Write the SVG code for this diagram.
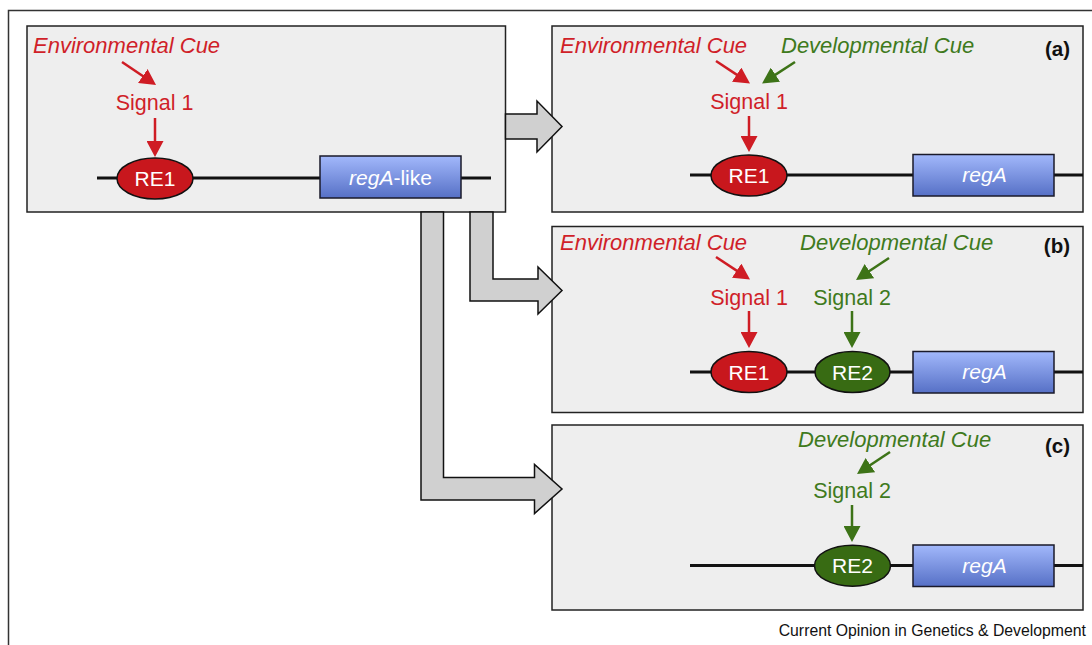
<svg xmlns="http://www.w3.org/2000/svg" width="1092" height="645" viewBox="0 0 1092 645">
<defs>
<linearGradient id="gBlue" x1="0" y1="0" x2="0" y2="1">
<stop offset="0" stop-color="#a2b8fb"/>
<stop offset="1" stop-color="#5670c6"/>
</linearGradient>
<marker id="hRed" markerUnits="userSpaceOnUse" markerWidth="17" markerHeight="17" refX="4" refY="8.5" orient="auto">
<path d="M0,0 L16,8.5 L0,17 z" fill="#cf1c24"/>
</marker>
<marker id="hGreen" markerUnits="userSpaceOnUse" markerWidth="17" markerHeight="17" refX="4" refY="8.5" orient="auto">
<path d="M0,0 L16,8.5 L0,17 z" fill="#3d7317"/>
</marker>
</defs>
<style>
.panel{fill:#eeeeee;stroke:#222;stroke-width:1.5}
.big{fill:#d0d0d0;stroke:#111;stroke-width:1.5;stroke-linejoin:miter}
.dna{stroke:#111;stroke-width:3;fill:none}
.cue{font-family:"Liberation Sans",Arial,sans-serif;font-size:22px;font-style:italic}
.sig{font-family:"Liberation Sans",Arial,sans-serif;font-size:21.5px;text-anchor:middle}
.red{fill:#d01f29}
.grn{fill:#3f7a1d}
.ar{stroke:#cf1c24;stroke-width:2.5;fill:none;marker-end:url(#hRed)}
.ag{stroke:#3d7317;stroke-width:2.5;fill:none;marker-end:url(#hGreen)}
.re1{fill:#c8171d;stroke:#111;stroke-width:1.5}
.re2{fill:#386b13;stroke:#111;stroke-width:1.5}
.gene{fill:url(#gBlue);stroke:#1a1a2a;stroke-width:1.5}
.wt{font-family:"Liberation Sans",Arial,sans-serif;font-size:21px;fill:#ffffff;text-anchor:middle}
.lab{font-family:"Liberation Sans",Arial,sans-serif;font-size:20.5px;font-weight:bold;fill:#111;text-anchor:end}
.cap{font-family:"Liberation Sans",Arial,sans-serif;font-size:15.8px;fill:#111;text-anchor:end}
</style>
<rect x="8.5" y="10.5" width="1200" height="700" fill="#ffffff" stroke="#333" stroke-width="1.5"/>

<g id="source">
<rect class="panel" x="27" y="26" width="478.5" height="186"/>
<text class="cue red" x="33" y="53">Environmental Cue</text>
<line class="ar" x1="122" y1="62" x2="146.1" y2="78.3"/>
<text class="sig red" x="154.5" y="110">Signal 1</text>
<line class="ar" x1="155" y1="118" x2="155" y2="145"/>
<line class="dna" x1="97" y1="178" x2="491" y2="178"/>
<ellipse class="re1" cx="155" cy="178.5" rx="38" ry="20.5"/>
<text class="wt" x="155" y="186">RE1</text>
<rect class="gene" x="320" y="156" width="141" height="42"/>
<text class="wt" x="390.5" y="184.5"><tspan font-style="italic">regA</tspan>-like</text>
</g>

<g id="panel-a">
<rect class="panel" x="552" y="26" width="531" height="186"/>
<text class="cue red" x="560" y="53">Environmental Cue</text>
<text class="cue grn" x="781" y="53">Developmental Cue</text>
<text class="lab" x="1070" y="56">(a)</text>
<line class="ar" x1="716" y1="61" x2="740" y2="76.9"/>
<line class="ag" x1="795" y1="62" x2="772.1" y2="76.9"/>
<text class="sig red" x="749" y="109">Signal 1</text>
<line class="ar" x1="749" y1="116" x2="749" y2="140"/>
<line class="dna" x1="690" y1="175" x2="1083" y2="175"/>
<ellipse class="re1" cx="749" cy="175.5" rx="38" ry="20.5"/>
<text class="wt" x="749" y="183">RE1</text>
<rect class="gene" x="913" y="154.5" width="141" height="41.5"/>
<text class="wt" x="984.5" y="182" font-style="italic">regA</text>
</g>

<g id="panel-b">
<rect class="panel" x="552" y="226.5" width="531" height="186"/>
<text class="cue red" x="560" y="250">Environmental Cue</text>
<text class="cue grn" x="800" y="250">Developmental Cue</text>
<text class="lab" x="1070" y="253">(b)</text>
<line class="ar" x1="716" y1="257" x2="740" y2="272.9"/>
<line class="ag" x1="889" y1="258" x2="866" y2="273.3"/>
<text class="sig red" x="749" y="305">Signal 1</text>
<text class="sig grn" x="852" y="305">Signal 2</text>
<line class="ar" x1="749" y1="311" x2="749" y2="336"/>
<line class="ag" x1="852" y1="311" x2="852" y2="336"/>
<line class="dna" x1="690" y1="372" x2="1083" y2="372"/>
<ellipse class="re1" cx="749" cy="372" rx="38" ry="20.5"/>
<text class="wt" x="749" y="379.5">RE1</text>
<ellipse class="re2" cx="852.5" cy="372" rx="37.5" ry="20.5"/>
<text class="wt" x="852.5" y="379.5">RE2</text>
<rect class="gene" x="913" y="351.5" width="141" height="41.5"/>
<text class="wt" x="984.5" y="379" font-style="italic">regA</text>
</g>

<g id="panel-c">
<rect class="panel" x="552" y="425" width="531" height="185"/>
<text class="cue grn" x="798" y="447">Developmental Cue</text>
<text class="lab" x="1070" y="453">(c)</text>
<line class="ag" x1="890" y1="452" x2="867" y2="467.3"/>
<text class="sig grn" x="852" y="498">Signal 2</text>
<line class="ag" x1="852" y1="505" x2="852" y2="530"/>
<line class="dna" x1="690" y1="565.5" x2="1083" y2="565.5"/>
<ellipse class="re2" cx="852.5" cy="565.7" rx="38" ry="20.5"/>
<text class="wt" x="852.5" y="573">RE2</text>
<rect class="gene" x="913" y="545" width="141" height="41.5"/>
<text class="wt" x="984.5" y="573" font-style="italic">regA</text>
</g>

<g id="connectors">
<path class="big" d="M505.5,114 L537,114 L537,101 L562,126.5 L537,152 L537,139 L505.5,139 Z"/>
<path class="big" d="M470,212 L470,301 L538,301 L538,314 L562,290.5 L538,267 L538,279 L493,279 L493,212 Z"/>
<path class="big" d="M421,212 L421,500 L534.5,500 L534.5,513.5 L562,489 L534.5,464.5 L534.5,477.5 L443.5,477.5 L443.5,212 Z"/>
</g>

<text class="cap" x="1086" y="636">Current Opinion in Genetics &amp; Development</text>
</svg>
